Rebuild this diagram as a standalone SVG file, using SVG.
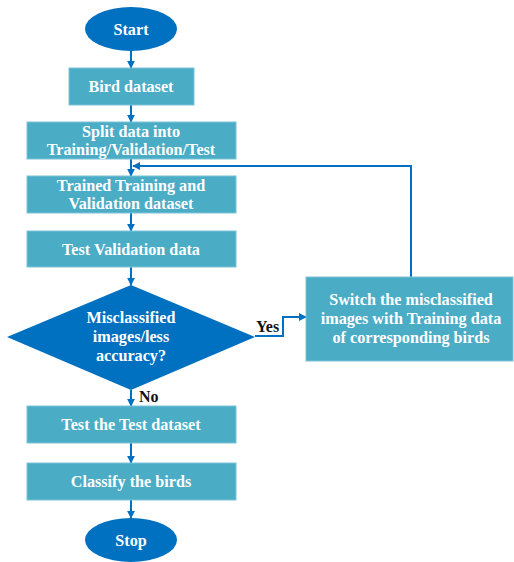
<svg xmlns="http://www.w3.org/2000/svg" width="514" height="562" viewBox="0 0 514 562">
<defs>
<marker id="ah" viewBox="0 0 10 10" refX="9" refY="5" markerWidth="4" markerHeight="4" markerUnits="strokeWidth" orient="auto">
<path d="M0,0 L10,5 L0,10 z" fill="#0070C0"/>
</marker>
<style>
.box{fill:#4BACC6;stroke:#7CC4D8;stroke-width:1}
.term{fill:#0070C0}
.t{font-family:"Liberation Serif","Times New Roman",serif;font-weight:bold;font-size:16.2px;fill:#fff;text-anchor:middle}
.lbl{font-family:"Liberation Serif","Times New Roman",serif;font-weight:bold;font-size:16px;fill:#111}
.c{fill:none;stroke:#0070C0;stroke-width:2;marker-end:url(#ah)}
</style>
</defs>
<rect width="514" height="562" fill="#fff"/>
<g id="connectors">
<line class="c" x1="131" y1="51" x2="131" y2="68"/>
<line class="c" x1="131" y1="105" x2="131" y2="122"/>
<line class="c" x1="131" y1="159" x2="131" y2="176"/>
<line class="c" x1="131" y1="213" x2="131" y2="231"/>
<line class="c" x1="131" y1="267" x2="131" y2="285"/>
<line class="c" x1="131" y1="390" x2="131" y2="406"/>
<line class="c" x1="131" y1="443" x2="131" y2="463"/>
<line class="c" x1="131" y1="500" x2="131" y2="518"/>
<polyline class="c" points="255,336 283,336 283,317 306,317"/>
<polyline class="c" points="411,277 411,166 133,166"/>
<text class="lbl" x="256" y="332">Yes</text>
<text class="lbl" x="139" y="402">No</text>
</g>
<g id="start"><ellipse class="term" cx="131" cy="29" rx="46" ry="22"/><text class="t" x="131" y="35">Start</text></g>
<g id="bird"><rect class="box" x="69" y="68" width="125" height="37"/><text class="t" x="131" y="92">Bird dataset</text></g>
<g id="split"><rect class="box" x="27" y="122" width="209" height="37"/><text class="t" x="131" y="137">Split data into</text><text class="t" x="131" y="155">Training/Validation/Test</text></g>
<g id="trained"><rect class="box" x="27" y="176" width="209" height="37"/><text class="t" x="131" y="191">Trained Training and</text><text class="t" x="131" y="209">Validation dataset</text></g>
<g id="testval"><rect class="box" x="27" y="231" width="209" height="36"/><text class="t" x="131" y="255">Test Validation data</text></g>
<g id="decision"><polygon class="term" points="131,285 255,337 131,390 7,337"/><text class="t" x="131" y="323">Misclassified</text><text class="t" x="131" y="342">images/less</text><text class="t" x="131" y="361">accuracy?</text></g>
<g id="switch"><rect class="box" x="306" y="277" width="207" height="84"/><text class="t" x="411" y="305">Switch the misclassified</text><text class="t" x="411" y="324">images with Training data</text><text class="t" x="411" y="343">of corresponding birds</text></g>
<g id="testtest"><rect class="box" x="27" y="406" width="209" height="37"/><text class="t" x="131" y="430">Test the Test dataset</text></g>
<g id="classify"><rect class="box" x="27" y="463" width="209" height="37"/><text class="t" x="131" y="487">Classify the birds</text></g>
<g id="stop"><ellipse class="term" cx="131" cy="540" rx="46" ry="22"/><text class="t" x="131" y="546">Stop</text></g>
</svg>
